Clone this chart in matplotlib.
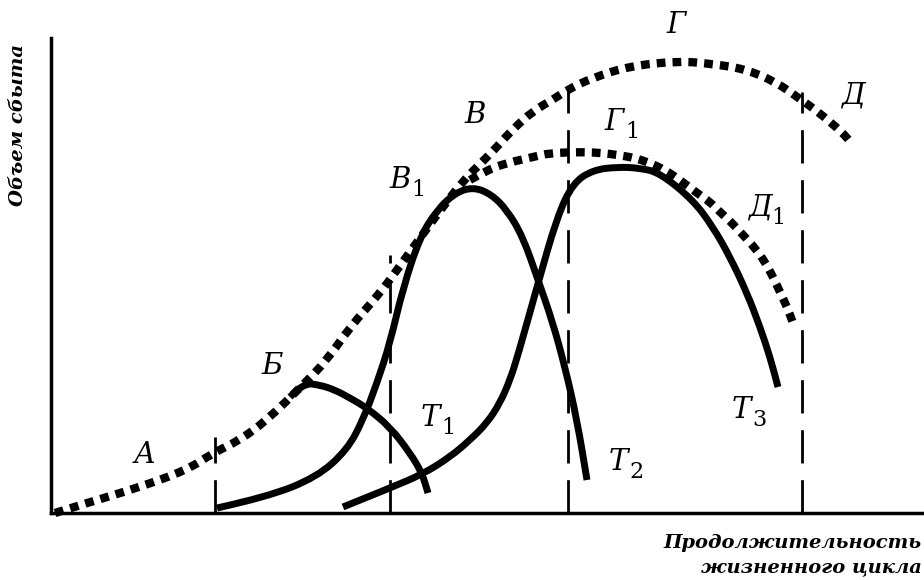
import matplotlib
matplotlib.use("Agg")
import matplotlib.pyplot as plt
from matplotlib import transforms
from matplotlib.path import Path
from matplotlib.patches import PathPatch

# life-cycle diagram, values
# x = time (arb. units), y = sales volume (arb. units)

market_x = [4, 36, 86, 136, 162, 189, 216, 252, 276, 299, 329, 346, 369, 391, 412,
            430, 444, 461, 482, 503, 516, 541, 579, 628, 662, 694, 725, 749, 766, 791, 801]
market_y = [0, 10, 25, 43, 60, 73, 93, 128, 153, 186, 220, 243, 275, 305, 332,
            350, 364, 383, 402, 414, 423, 435, 447, 452, 449, 444, 431, 414, 402, 381, 369]

market1_x = [419, 436, 456, 482, 499, 532, 551, 567, 584, 599, 614, 629, 646, 659,
             669, 681, 692, 704, 714, 722, 729, 736, 742]
market1_y = [333, 343, 350, 356, 360, 361, 360, 358, 355, 350, 343, 333, 320, 311,
             301, 290, 278, 265, 251, 236, 221, 206, 190]

prod1_x = [239, 252, 269, 284, 299, 316, 339, 359, 371, 377]
prod1_y = [116, 130, 128, 123, 115, 105, 86, 60, 40, 20]

prod2_x = [166, 216, 266, 296, 312, 326, 339, 352, 369, 386, 404, 422, 440, 456,
           472, 487, 501, 514, 526, 536]
prod2_y = [5, 16, 36, 63, 93, 130, 170, 225, 276, 303, 320, 326, 319, 303,
           276, 233, 193, 146, 93, 33]

prod3_x = [292, 339, 372, 399, 419, 436, 449, 459, 467, 486, 506, 522, 542,
           566, 589, 609, 642, 662, 679, 696, 709, 719, 727]
prod3_y = [6, 25, 39, 56, 73, 90, 110, 133, 158, 226, 296, 330, 343,
           346, 345, 340, 313, 286, 256, 220, 186, 156, 126]

# vertical stage boundaries: x position and top
bound_x = [164, 339, 517, 751]
bound_top = [76, 258, 425, 421]

# curve letters: (text, subscript, x, y)
point_labels = [
    ("А", "", 94, 58),
    ("Б", "", 221, 147),
    ("В", "", 424, 398),
    ("В", "1", 349, 333),
    ("Г", "", 625, 488),
    ("Г", "1", 563, 391),
    ("Д", "", 802, 418),
    ("Д", "1", 709, 305),
    ("T", "1", 379, 95),
    ("T", "2", 567, 51),
    ("T", "3", 690, 103),
]

ylabel = "Объем сбыта"
xlabel = "Продолжительность\nжизненного цикла"


def smooth(xs, ys):
    # quadratic b-spline style path: read points are control points
    pts = list(zip(xs, ys))
    verts = [pts[0]]
    codes = [Path.MOVETO]
    for i in range(1, len(pts) - 1):
        mid = ((pts[i][0] + pts[i + 1][0]) / 2, (pts[i][1] + pts[i + 1][1]) / 2)
        verts += [pts[i], mid]
        codes += [Path.CURVE3, Path.CURVE3]
    verts.append(pts[-1])
    codes.append(Path.LINETO)
    return Path(verts, codes)


fig = plt.figure(figsize=(9.24, 5.8), dpi=100)
ax = fig.add_axes([51 / 924, 67 / 580, 873 / 924, 475 / 580])
ax.set_xlim(0, 873)
ax.set_ylim(0, 475)

for s in ["top", "right"]:
    ax.spines[s].set_visible(False)
for s in ["left", "bottom"]:
    ax.spines[s].set_linewidth(2.5)
ax.set_xticks([])
ax.set_yticks([])

# dashed boundaries
for bx, bt in zip(bound_x, bound_top):
    ax.plot([bx, bx], [0, bt], color="black", lw=2, dashes=(12, 6), clip_on=False)

# dotted market curves
for xs, ys in [(market_x, market_y), (market1_x, market1_y)]:
    ax.add_patch(PathPatch(smooth(xs, ys), fill=False, color="black", lw=6,
                           linestyle=(0, (1.05, 0.85)), capstyle="butt",
                           clip_on=False))

# product curves
for xs, ys in [(prod1_x, prod1_y), (prod2_x, prod2_y), (prod3_x, prod3_y)]:
    ax.add_patch(PathPatch(smooth(xs, ys), fill=False, color="black", lw=5,
                           capstyle="butt", joinstyle="round", clip_on=False))

font = ["DejaVu Serif"]
for txt, sub, x, y in point_labels:
    ax.text(x, y, txt, fontsize=21, style="italic", family=font,
            ha="center", va="center", clip_on=False)
    if sub:
        tr = transforms.offset_copy(ax.transData, fig=fig, x=8, y=-7.5, units="points")
        ax.text(x, y, sub, fontsize=16, family=font, transform=tr,
                ha="left", va="center", clip_on=False)

fig.text(18 / 924, 1 - 125 / 580, ylabel, rotation=90, fontsize=14,
         style="italic", weight="bold", family=font, ha="center", va="center")
fig.text(922 / 924, 1 - 555 / 580, xlabel, fontsize=14, style="italic",
         weight="bold", family=font, ha="right", va="center", linespacing=1.45)

fig.savefig("out.png", dpi=100)
